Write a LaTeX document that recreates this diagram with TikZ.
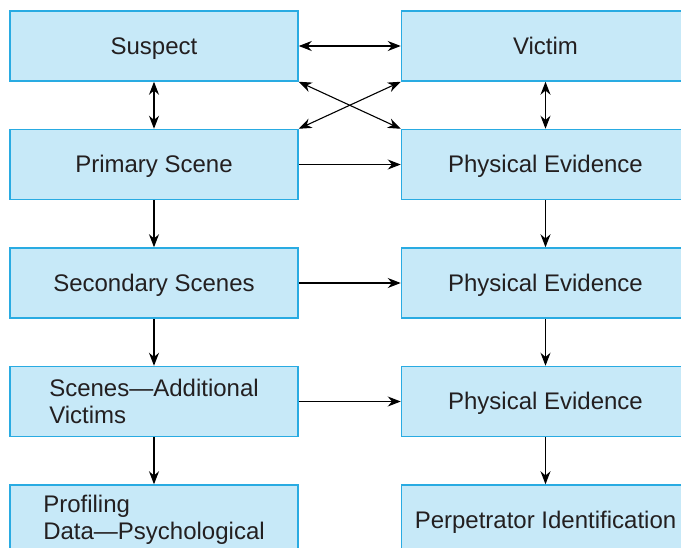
\documentclass[tikz,border=0pt]{standalone}
\usepackage{fontspec}
\setmainfont{Liberation Sans}
\usetikzlibrary{arrows.meta, positioning}
\definecolor{boxfill}{RGB}{199,233,248}
\definecolor{boxedge}{RGB}{41,171,226}
\definecolor{ink}{RGB}{35,31,32}
\tikzset{stage/.style={rectangle,draw=boxedge,fill=boxfill,line width=0.75pt,minimum width=144pt,minimum height=35pt,inner sep=0pt,align=left,text=ink,font=\fontsize{12}{13.5}\selectfont},oneline/.style={execute at begin node=\rule[-2pt]{0pt}{12.6pt}},line/.style={-{Stealth[length=6.5pt,width=5pt]},line width=0.55pt},both/.style={{Stealth[length=6.5pt,width=5pt]}-{Stealth[length=6.5pt,width=5pt]},line width=0.55pt}}

\begin{document}
\begin{tikzpicture}[x=0.5pt,y=-0.5pt,node distance=23.5pt and 51pt]
\useasboundingbox (0,0) rectangle (681,547);
\clip (0,0) rectangle (681,547);
\node[stage,oneline] (sus) at (154,46) {Suspect};
\node[stage,oneline, right=of sus] (vic) {Victim};
\node[stage,oneline, below=of sus] (prim) {Primary Scene};
\node[stage,oneline, below=of vic] (ev1) {Physical Evidence};
\node[stage,oneline, below=of prim] (sec) {Secondary Scenes};
\node[stage,oneline, below=of ev1] (ev2) {Physical Evidence};
\node[stage, below=of sec] (add) {Scenes---Additional\\Victims};
\node[stage,oneline, below=of ev2] (ev3) {Physical Evidence};
\node[stage, below=of add] (prof) {Profiling\\Data---Psychological};
\node[stage,oneline, below=of ev3] (perp) {Perpetrator Identification};
\draw[both] (sus) -- (vic);
\draw[both] (sus) -- (prim);
\draw[both] (vic) -- (ev1);
\draw[both] (sus.south east) -- (ev1.north west);
\draw[both] (vic.south west) -- (prim.north east);
\draw[line] (prim) -- (ev1);
\draw[line] (prim) -- (sec);
\draw[line] (ev1) -- (ev2);
\draw[line] (sec) -- (ev2);
\draw[line] (sec) -- (add);
\draw[line] (ev2) -- (ev3);
\draw[line] (add) -- (ev3);
\draw[line] (add) -- (prof);
\draw[line] (ev3) -- (perp);
\end{tikzpicture}
\end{document}
